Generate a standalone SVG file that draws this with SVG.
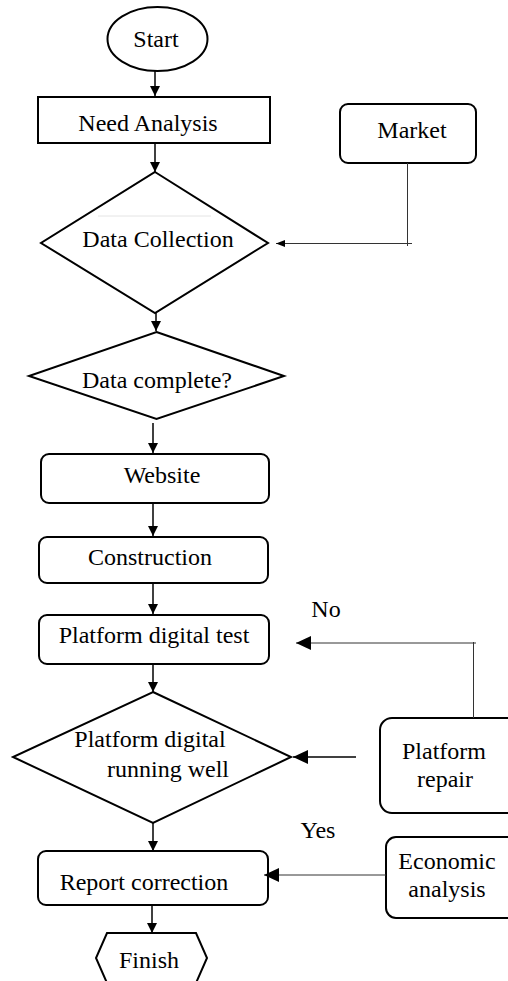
<svg xmlns="http://www.w3.org/2000/svg" width="508" height="981" viewBox="0 0 508 981">
<style>
.s{fill:#fff;stroke:#000;stroke-width:2}
.t{fill:#000;text-anchor:middle}
.c{fill:none;stroke:#000;stroke-width:1.5}
.th{fill:none;stroke:#333;stroke-width:1}
</style>
<defs>
<marker id="a" viewBox="0 0 10 10" refX="10" refY="5" markerWidth="10" markerHeight="10" markerUnits="userSpaceOnUse" orient="auto"><path d="M0,0 L10,5 L0,10 z" fill="#000"/></marker>
<marker id="as" viewBox="0 0 10 10" refX="10" refY="5" markerWidth="9" markerHeight="7" markerUnits="userSpaceOnUse" orient="auto" preserveAspectRatio="none"><path d="M0,0 L10,5 L0,10 z" fill="#000"/></marker>
<marker id="ab" viewBox="0 0 10 10" refX="10" refY="5" markerWidth="15" markerHeight="14" markerUnits="userSpaceOnUse" orient="auto" preserveAspectRatio="none"><path d="M0,0 L10,5 L0,10 z" fill="#000"/></marker>
</defs>
<rect width="508" height="981" fill="#fff"/>
<g font-family="Liberation Serif, serif" font-size="24">
<g id="start"><ellipse class="s" cx="157.5" cy="39" rx="50" ry="32"/><text class="t" x="156" y="47">Start</text></g>
<g id="need"><rect class="s" x="38" y="97" width="232" height="46"/><text class="t" x="148" y="131">Need Analysis</text></g>
<g id="market"><rect class="s" x="340" y="104" width="136" height="59" rx="8"/><text class="t" x="412" y="138">Market</text></g>
<g id="datacollection"><path class="s" d="M155,172 L268,243 L155,313 L41,243 Z"/><line x1="98" y1="216" x2="211" y2="216" stroke="#ddd" stroke-width="0.8"/><text class="t" x="158" y="247">Data Collection</text></g>
<g id="datacomplete"><path class="s" d="M156.5,332 L284,376 L156.5,419 L29,376 Z"/><text class="t" x="157" y="388">Data complete?</text></g>
<g id="website"><rect class="s" x="41" y="454" width="228" height="49" rx="8"/><text class="t" x="162" y="483">Website</text></g>
<g id="construction"><rect class="s" x="39" y="537" width="229" height="46" rx="8"/><text class="t" x="150" y="565">Construction</text></g>
<g id="pdtest"><rect class="s" x="39" y="615" width="230" height="49" rx="8"/><text class="t" x="154" y="643">Platform digital test</text></g>
<g id="running"><path class="s" d="M153,692 L291,757 L153,823 L13,757 Z"/><text class="t" x="150" y="747">Platform digital</text><text class="t" x="168" y="777">running well</text></g>
<g id="repair"><rect class="s" x="380" y="718" width="140" height="95" rx="12"/><text class="t" x="444" y="759">Platform</text><text class="t" x="445" y="787">repair</text></g>
<g id="report"><rect class="s" x="38" y="851" width="230" height="54" rx="8"/><text class="t" x="144" y="890">Report correction</text></g>
<g id="economic"><rect class="s" x="386" y="837" width="134" height="81" rx="10"/><text class="t" x="447" y="869">Economic</text><text class="t" x="447" y="897">analysis</text></g>
<g id="finish"><path class="s" d="M107,933 L196,933 L207,958 L196,983 L107,983 L96,958 Z"/><text class="t" x="149" y="968">Finish</text></g>
<text class="t" x="326" y="617">No</text>
<text class="t" x="318" y="838">Yes</text>
</g>
<g id="connectors">
<line class="c" x1="155" y1="71" x2="155" y2="96" marker-end="url(#a)"/>
<line class="c" x1="155" y1="143" x2="155" y2="172" marker-end="url(#a)"/>
<line class="c" x1="156" y1="313" x2="156" y2="331" marker-end="url(#a)"/>
<line class="c" x1="153" y1="423" x2="153" y2="453" marker-end="url(#a)"/>
<line class="c" x1="153" y1="503" x2="153" y2="536" marker-end="url(#a)"/>
<line class="c" x1="153" y1="583" x2="153" y2="614" marker-end="url(#a)"/>
<line class="c" x1="153" y1="664" x2="153" y2="692" marker-end="url(#a)"/>
<line class="c" x1="153" y1="823" x2="153" y2="851" marker-end="url(#a)"/>
<line class="c" x1="152" y1="905" x2="152" y2="933" marker-end="url(#a)"/>
<line class="th" x1="407.5" y1="163" x2="407.5" y2="246"/>
<line class="th" x1="412" y1="243.5" x2="276" y2="243.5" marker-end="url(#as)"/>
<line class="th" x1="473.5" y1="718" x2="473.5" y2="642"/>
<line class="th" x1="476" y1="643" x2="296" y2="643" marker-end="url(#ab)" stroke-width="1.2"/>
<line class="c" x1="356" y1="757" x2="293" y2="757" marker-end="url(#ab)"/>
<line class="th" x1="386" y1="875" x2="264" y2="875" marker-end="url(#ab)" stroke-width="1.2"/>
</g>
</svg>
